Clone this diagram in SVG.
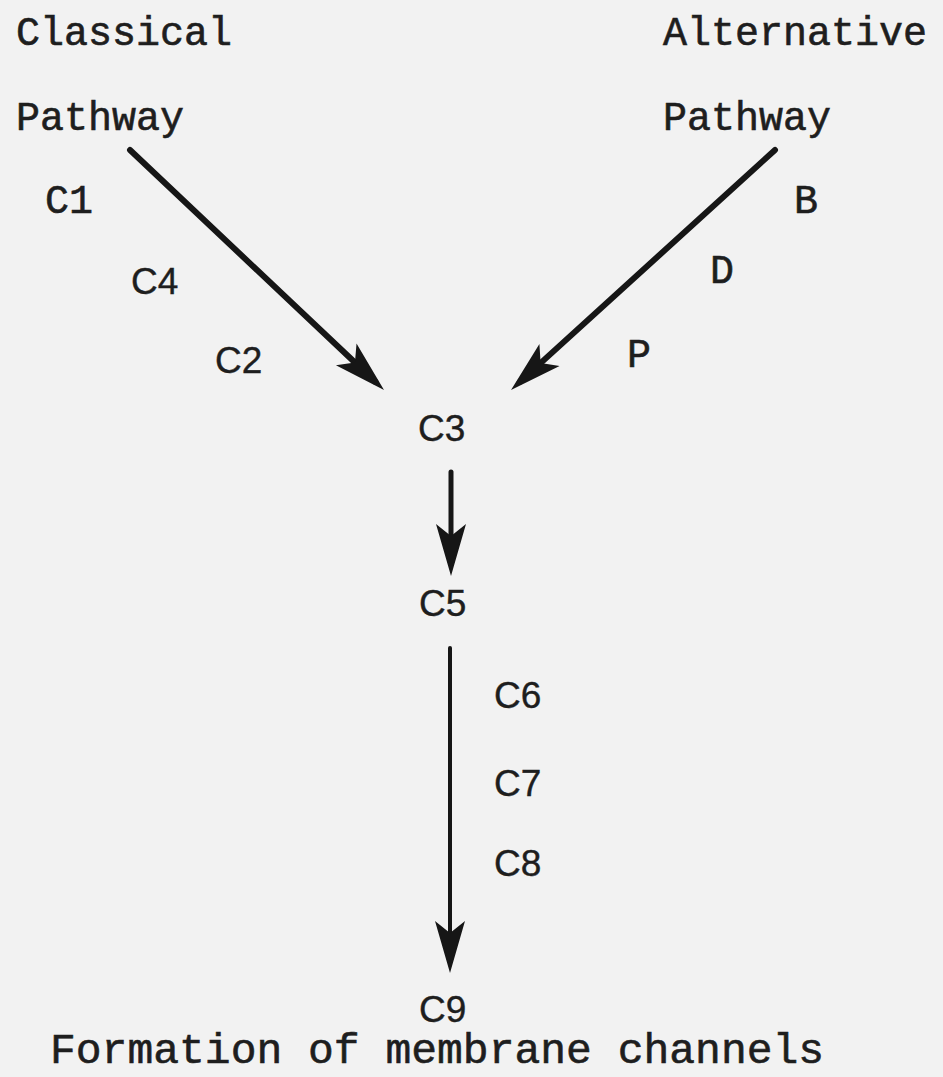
<svg xmlns="http://www.w3.org/2000/svg" width="943" height="1077" viewBox="0 0 943 1077">
<defs>
<style>
.mono{font-family:"Liberation Mono","Courier New",monospace;font-size:40px;fill:#1e1e1e;stroke:#1e1e1e;stroke-width:0.6}
.sans{font-family:"Liberation Sans",Arial,sans-serif;font-size:37px;fill:#1e1e1e;stroke:#1e1e1e;stroke-width:0.4}
.ln{stroke:#161616;fill:none;stroke-linecap:round}
</style>
<marker id="ah" markerUnits="userSpaceOnUse" viewBox="0 0 52 34" refX="40" refY="17" markerWidth="52" markerHeight="34" orient="auto">
<path d="M52,17 L0,2 L12,17 L0,32 Z" fill="#161616"/>
</marker>
</defs>
<rect width="943" height="1077" fill="#f2f2f2"/>
<g id="classical"><text class="mono" x="16" y="45">Classical</text><text class="mono" x="16" y="130">Pathway</text></g>
<g id="alternative"><text class="mono" x="663" y="45">Alternative</text><text class="mono" x="663" y="130">Pathway</text></g>
<g id="c1"><text class="mono" x="45" y="213">C1</text></g>
<g id="c4"><text class="sans" x="131" y="294">C4</text></g>
<g id="c2"><text class="sans" x="215" y="373">C2</text></g>
<g id="b"><text class="mono" x="794" y="213">B</text></g>
<g id="d"><text class="mono" x="710" y="283">D</text></g>
<g id="p"><text class="mono" x="627" y="367">P</text></g>
<g id="c3"><text class="sans" x="418" y="441">C3</text></g>
<g id="c5"><text class="sans" x="419" y="616">C5</text></g>
<g id="c6"><text class="sans" x="494" y="708">C6</text></g>
<g id="c7"><text class="sans" x="494" y="796">C7</text></g>
<g id="c8"><text class="sans" x="494" y="876">C8</text></g>
<g id="c9"><text class="sans" x="419" y="1022">C9</text></g>
<g id="formation"><text class="mono" x="50" y="1063" style="font-size:43px">Formation of membrane channels</text></g>
<g id="connectors">
<line class="ln" x1="130" y1="150" x2="375.3" y2="381.8" stroke-width="6" marker-end="url(#ah)"/>
<line class="ln" x1="775" y1="150" x2="519.9" y2="381.9" stroke-width="6" marker-end="url(#ah)"/>
<line class="ln" x1="451" y1="472" x2="451" y2="564" stroke-width="5" marker-end="url(#ah)"/>
<line class="ln" x1="450" y1="648" x2="450" y2="961" stroke-width="4" marker-end="url(#ah)"/>
</g>
</svg>
